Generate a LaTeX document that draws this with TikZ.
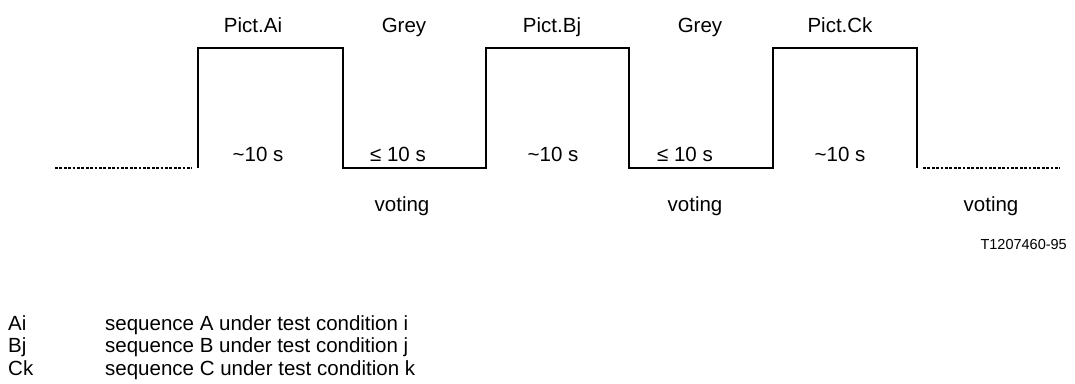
\documentclass[tikz,border=0pt]{standalone}
\usepackage{fontspec}
\setmainfont{Liberation Sans}
\newcommand{\tld}{\char126\relax}
\begin{document}
\begin{tikzpicture}[x=1pt,y=-1pt,
  wave/.style={line width=1.8pt,line join=miter},
  dots/.style={line width=2.8pt,dash pattern=on 2.8pt off 1.6pt},
  lbl/.style={anchor=base,inner sep=0pt,font=\fontsize{20.5}{24}\selectfont},
  lgd/.style={anchor=base west,inner sep=0pt,font=\fontsize{20.5}{24}\selectfont},
  tag/.style={anchor=base east,inner sep=0pt,font=\fontsize{14.5}{17}\selectfont}]
\useasboundingbox (0,0) rectangle (1075,383);
% waveform corners
\coordinate (a0) at (198,168);
\coordinate (a1) at (198,48);
\coordinate (a2) at (343,48);
\coordinate (a3) at (343,168);
\coordinate (b0) at (486,168);
\coordinate (b1) at (486,48);
\coordinate (b2) at (629,48);
\coordinate (b3) at (629,168);
\coordinate (c0) at (773,168);
\coordinate (c1) at (773,48);
\coordinate (c2) at (917,48);
\coordinate (c3) at (917,168);
\coordinate (l0) at (55,168);
\coordinate (l1) at (192,168);
\coordinate (r0) at (923,168);
\coordinate (r1) at (1060,168);
\draw[wave] (a0) -- (a1) -- (a2) -- (a3) -- (b0) -- (b1) -- (b2) -- (b3) -- (c0) -- (c1) -- (c2) -- (c3);
\draw[dots] (l0) -- (l1);
\draw[dots] (r0) -- (r1);
% top labels
\node[lbl] (pa) at (253,32) {Pict.Ai};
\node[lbl] (g1) at (404,32) {Grey};
\node[lbl] (pb) at (552,32) {Pict.Bj};
\node[lbl] (g2) at (700,32) {Grey};
\node[lbl] (pc) at (840,32) {Pict.Ck};
% durations
\node[lbl] (d1) at (258,161) {\tld 10 s};
\node[lbl] (e1) at (398,161) {≤ 10 s};
\node[lbl] (d2) at (553,161) {\tld 10 s};
\node[lbl] (e2) at (685,161) {≤ 10 s};
\node[lbl] (d3) at (840,161) {\tld 10 s};
% voting
\node[lbl] (v1) at (402,211) {voting};
\node[lbl] (v2) at (695,211) {voting};
\node[lbl] (v3) at (991,211) {voting};
% figure tag
\node[tag] (t) at (1067,249) {T1207460-95};
% legend
\node[lgd] (k1) at (8,330) {Ai};
\node[lgd] (k2) at (8,352.5) {Bj};
\node[lgd] (k3) at (8,375) {Ck};
\node[lgd] (s1) at (105,330) {sequence A under test condition i};
\node[lgd] (s2) at (105,352.5) {sequence B under test condition j};
\node[lgd] (s3) at (105,375) {sequence C under test condition k};
\end{tikzpicture}
\end{document}
